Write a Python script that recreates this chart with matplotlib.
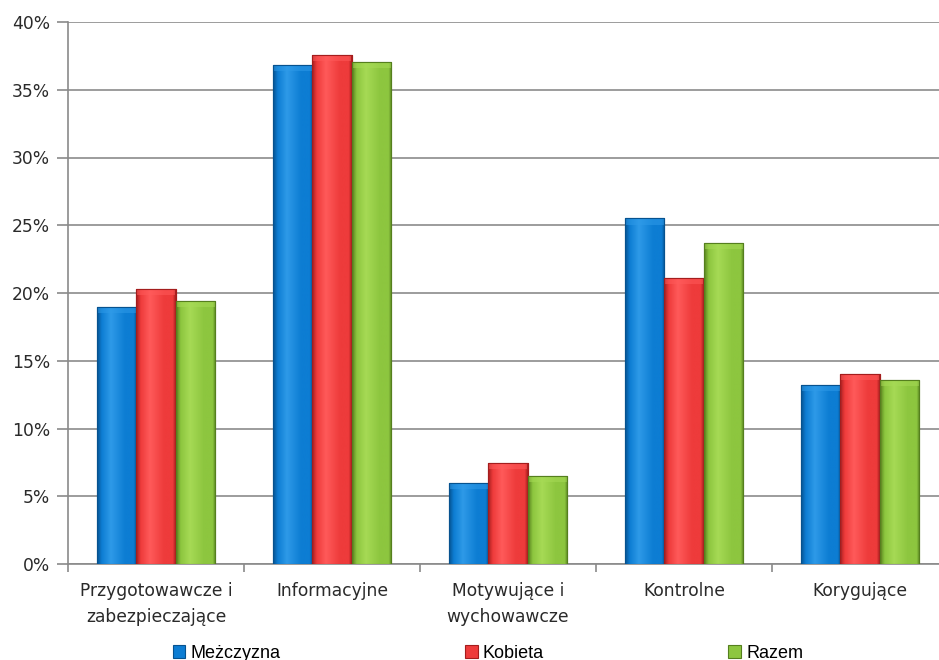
import numpy as np
import matplotlib
matplotlib.use("Agg")
import matplotlib.pyplot as plt
from matplotlib.ticker import FixedLocator, FuncFormatter
from matplotlib.colors import LinearSegmentedColormap
from matplotlib.patches import Patch

categories = ["Przygotowawcze i\nzabezpieczające", "Informacyjne",
              "Motywujące i\nwychowawcze", "Kontrolne", "Korygujące"]
series_names = ["Meżczyzna", "Kobieta", "Razem"]
mezczyzna = [19.0, 36.8, 5.95, 25.5, 13.2]
kobieta = [20.3, 37.6, 7.45, 21.1, 14.05]
razem = [19.4, 37.05, 6.5, 23.7, 13.55]
yticks = [0, 5, 10, 15, 20, 25, 30, 35, 40]

base_colors = ["#0d7dd3", "#ee3b3b", "#8dc63f"]
edge_dark = ["#06528f", "#a41d1d", "#557f1e"]
highlight = ["#2e9ae8", "#ff5a5a", "#a6da55"]

fig = plt.figure(figsize=(9.39, 6.6), dpi=100)
fig.patch.set_facecolor("white")
ax = fig.add_axes([68/939, 1-564/660, 880/939, 542/660])

x = np.arange(len(categories))
width = 0.225
offsets = [-width, 0, width]
all_series = [mezczyzna, kobieta, razem]

ax.set_xlim(-0.5, len(categories) - 0.5)
ax.set_ylim(0, 40)

grad = np.linspace(0, 1, 256).reshape(1, -1)
for s, (vals, off) in enumerate(zip(all_series, offsets)):
    bars = ax.bar(x + off, vals, width, color=base_colors[s],
                  edgecolor=edge_dark[s], linewidth=0.8, zorder=3,
                  label=series_names[s])
    cmap = LinearSegmentedColormap.from_list(
        "g%d" % s,
        [(0.0, edge_dark[s]), (0.12, base_colors[s]), (0.35, highlight[s]),
         (0.7, base_colors[s]), (0.92, base_colors[s]), (1.0, edge_dark[s])])
    for b in bars:
        x0, y0 = b.get_x(), b.get_y()
        w, h = b.get_width(), b.get_height()
        im = ax.imshow(grad, cmap=cmap, aspect="auto",
                       extent=(x0, x0 + w, y0, y0 + h), zorder=3.5,
                       interpolation="bilinear")
        im.set_clip_path(b)
        # top bevel
        ax.bar(x0 + w / 2, 0.45, w * 0.98, bottom=y0 + h - 0.45,
               color=highlight[s], alpha=0.55, linewidth=0, zorder=3.8)
        ax.bar(x0 + w / 2, h, w, bottom=y0, fill=False,
               edgecolor=edge_dark[s], linewidth=0.8, zorder=4)

ax.set_xlim(-0.5, len(categories) - 0.5)
ax.set_ylim(0, 40)

ax.yaxis.set_major_locator(FixedLocator(yticks))
ax.yaxis.set_major_formatter(FuncFormatter(lambda v, p: "%d%%" % v))
ax.grid(axis="y", color="#9c9c9c", linewidth=1.4, zorder=0)
ax.set_axisbelow(True)

ax.set_xticks(x)
ax.set_xticklabels(categories, fontsize=12.3, color="#2a2a2a", linespacing=1.55)
ax.set_xticks(np.arange(len(categories) + 1) - 0.5, minor=True)
ax.tick_params(axis="x", which="major", length=0, pad=13)
ax.tick_params(axis="x", which="minor", length=6, width=1.2, color="#8a8a8a",
               direction="out")
ax.tick_params(axis="y", length=8, width=1.2, color="#8a8a8a", labelsize=12.3,
               labelcolor="#2a2a2a", pad=5)

for sp in ["top", "right"]:
    ax.spines[sp].set_visible(False)
for sp in ["left", "bottom"]:
    ax.spines[sp].set_color("#8a8a8a")
    ax.spines[sp].set_linewidth(1.2)

handles = [Patch(facecolor=base_colors[i], edgecolor=edge_dark[i], linewidth=0.8)
           for i in range(3)]
fig.legend(handles, series_names, loc="center", bbox_to_anchor=(488/939, 1-653/660),
           ncol=3, frameon=False, handlelength=0.7, handleheight=0.7,
           handletextpad=0.3, columnspacing=10.2,
           prop={"family": "Liberation Sans", "size": 13})

fig.savefig("out.png", dpi=100, facecolor="white")
